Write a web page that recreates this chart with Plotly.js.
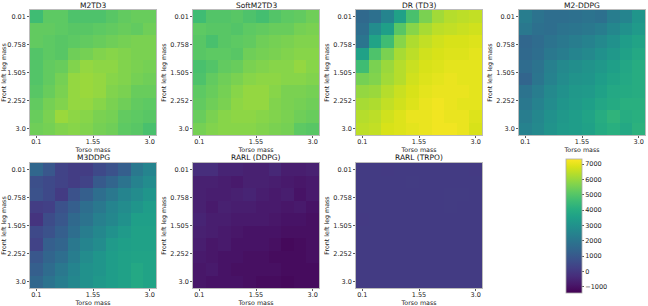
<!DOCTYPE html>
<html>
<head>
<meta charset="utf-8">
<script src="https://cdn.plot.ly/plotly-3.0.1.min.js"></script>
<style>html,body{margin:0;padding:0;background:#fff;}#chart{width:648px;height:306px;}</style>
</head>
<body>
<div id="chart"></div>
<script>
// Torso mass (x) and front left leg mass (y) grid values
const torsoMass = [0.1, 0.4222, 0.7444, 1.0667, 1.3889, 1.7111, 2.0333, 2.3556, 2.6778, 3.0];
const legMass = [0.01, 0.3422, 0.6744, 1.0067, 1.3389, 1.6711, 2.0033, 2.3356, 2.6678, 3.0];
const xTickVals = [0.1, 1.55, 3.0];
const xTickText = ["0.1", "1.55", "3.0"];
const yTickVals = [0.01, 0.7575, 1.505, 2.2525, 3.0];
const yTickText = ["0.01", "0.758", "1.505", "2.252", "3.0"];
const cbTickVals = [-1000, 0, 1000, 2000, 3000, 4000, 5000, 6000, 7000];
const titles = ["M2TD3", "SoftM2TD3", "DR (TD3)", "M2-DDPG", "M3DDPG", "RARL (DDPG)", "RARL (TRPO)"];

const m2td3 = [
  [4600,5130,5130,4860,4860,4860,5040,5210,5300,5300],
  [5210,5210,5130,5040,5040,5130,5210,5300,5210,5390],
  [5210,5130,5040,5130,5210,5300,5390,5480,5560,5560],
  [4950,5130,5040,5390,5480,5650,5740,5650,5560,5560],
  [4950,5210,5300,5650,5910,5820,5820,5650,5560,5480],
  [4950,5210,5480,5910,6000,5910,5740,5650,5480,5390],
  [5040,5300,5560,5910,6000,5910,5650,5560,5300,5300],
  [5210,5480,5650,5910,5910,5740,5560,5390,5210,5130],
  [5300,5560,6000,5820,5740,5560,5480,5210,5130,5040],
  [5390,5480,5650,5740,5650,5480,5390,5130,5040,4780]
];
const softM2td3 = [
  [4600,4950,4950,5040,4860,4690,4950,5130,5210,5390],
  [5130,5040,5040,4950,5130,5210,5300,5300,5480,5560],
  [5040,4780,5040,5130,5210,5390,5480,5560,5650,5650],
  [5040,5130,5130,5040,5390,5480,5560,5650,5740,5740],
  [4780,4950,5210,5300,5560,5650,5740,5740,5910,5740],
  [4860,5210,5390,5560,5740,5820,5820,5740,5740,5650],
  [5130,5300,5480,5740,5910,5910,5740,5560,5560,5480],
  [5210,5390,5560,5820,5910,5910,5650,5560,5480,5390],
  [5300,5560,5740,5820,5820,5740,5650,5560,5390,5300],
  [5480,5650,5740,5740,5740,5650,5560,5480,5130,5040]
];
const drTd3 = [
  [1540,1800,2500,3550,4780,5560,6090,6350,6440,6520],
  [1720,2770,3460,5040,5740,6170,6440,6520,6610,6700],
  [1980,3640,4600,5740,6260,6520,6700,6790,6790,6870],
  [3550,4860,5560,6170,6440,6700,6790,6870,6870,6960],
  [4600,5560,6000,6350,6610,6790,6870,6960,6960,6960],
  [5480,5650,6090,6350,6700,6870,6960,7050,6960,6960],
  [5910,6000,6350,6610,6790,6960,7050,7050,7050,6960],
  [6170,6260,6520,6700,6870,7050,7140,7050,6960,6960],
  [6350,6440,6700,6870,7050,7050,7140,7050,7050,6870],
  [6440,6520,6790,6870,6960,7050,7140,7140,7050,6790]
];
const m2ddpg = [
  [2240,1890,1720,1720,1800,1890,1800,2240,2500,3110],
  [2070,1800,1720,1890,1980,2070,2240,2590,2940,3290],
  [1450,1630,1890,2070,2240,2420,2680,2940,3380,3640],
  [1540,1720,2070,2240,2500,2680,2940,3200,3550,3810],
  [1630,1890,2330,2680,2850,3030,3200,3460,3730,3990],
  [1370,1980,2420,2770,3030,3110,3380,3640,3810,3990],
  [1890,2240,2680,2940,3200,3290,3550,3810,3900,3990],
  [2070,2420,2770,3110,3290,3460,3730,3900,4080,4080],
  [2240,2590,2940,3200,3380,3640,3990,4250,3990,4080],
  [2420,2680,3030,3290,3380,3550,3900,4080,3810,4160]
];
const m3ddpg = [
  [1450,930,320,140,140,490,760,1190,2070,2500],
  [670,490,320,140,320,1020,1370,1890,2420,2770],
  [760,490,60,760,1190,1720,2070,2500,2770,3110],
  [140,230,760,1190,1720,2070,2500,2770,3110,3380],
  [-120,580,930,1540,1890,2330,2590,2940,3460,3460],
  [490,760,1190,1720,2240,2590,2940,3290,3550,3550],
  [320,1190,1370,2070,2500,2770,3290,3460,3550,3550],
  [930,1370,1720,2240,2770,3110,3380,3550,3640,3640],
  [1190,1630,2070,2500,2940,3110,3380,3550,3810,3640],
  [1450,1890,2240,2590,2940,3200,3380,3550,3810,3640]
];
const rarlDdpg = [
  [-290,-290,-560,-560,-640,-640,-470,-730,-730,-640],
  [-640,-640,-730,-820,-640,-640,-730,-820,-910,-820],
  [-640,-730,-730,-640,-560,-730,-820,-730,-990,-820],
  [-640,-820,-640,-730,-730,-820,-820,-910,-820,-990],
  [-560,-730,-730,-820,-820,-820,-910,-990,-990,-1080],
  [-640,-730,-820,-910,-990,-990,-990,-1080,-1080,-1080],
  [-730,-910,-820,-990,-990,-990,-1080,-1250,-1170,-1080],
  [-820,-910,-990,-990,-1080,-1080,-1170,-1170,-1170,-1080],
  [-910,-820,-990,-1080,-1080,-1080,-1080,-1170,-1170,-1170],
  [-910,-990,-990,-990,-1080,-1170,-1170,-1250,-1170,-1170]
];
const rarlTrpo = [
  [60,60,50,60,60,70,60,60,60,50],
  [60,60,60,60,90,70,60,60,60,60],
  [60,60,60,70,80,60,70,90,90,60],
  [60,60,60,60,60,60,60,90,60,60],
  [50,70,80,80,70,60,60,60,60,60],
  [60,80,80,70,70,60,60,60,60,60],
  [60,70,70,70,60,60,60,60,60,60],
  [60,60,60,60,60,60,60,60,60,60],
  [60,60,60,60,60,60,60,60,60,60],
  [70,70,60,60,60,60,60,60,60,60]
];
const allData = [m2td3, softM2td3, drTd3, m2ddpg, m3ddpg, rarlDdpg, rarlTrpo];

const W = 648, H = 306;
const colLeft = [30, 193, 356, 519];
const panelW = 126;
const rowTop = [10, 163];
const titleCenter = [5, 157.5];
const panelH = 125;
const font = "DejaVu Sans, Liberation Sans, sans-serif";

const traces = [];
const layout = {
  width: W, height: H,
  margin: {l: 0, r: 0, t: 0, b: 0},
  paper_bgcolor: "#fff", plot_bgcolor: "#fff",
  font: {family: font, color: "#222", size: 6.5},
  showlegend: false,
  annotations: [],
  coloraxis: {
    cmin: -1430, cmax: 7310,
    colorscale: "Viridis",
    colorbar: {
      x: 566 / W, xanchor: "left", xpad: 0,
      y: (H - 293.3) / H, yanchor: "bottom", ypad: 0,
      lenmode: "pixels", len: 134, thickness: 16,
      outlinewidth: 0.8, outlinecolor: "#aaa",
      ticks: "outside", ticklen: 2, tickwidth: 0.8, tickcolor: "#333",
      tickvals: cbTickVals,
      tickfont: {size: 6.5, family: font, color: "#222"}
    }
  }
};

allData.forEach((z, i) => {
  const r = Math.floor(i / 4), c = i % 4;
  const n = i + 1;
  const xa = n === 1 ? "x" : "x" + n;
  const ya = n === 1 ? "y" : "y" + n;
  traces.push({
    type: "heatmap", x: torsoMass, y: legMass, z: z,
    xaxis: xa, yaxis: ya, coloraxis: "coloraxis",
    hoverinfo: "skip"
  });
  const x0 = colLeft[c] / W, x1 = (colLeft[c] + panelW) / W;
  const y1 = 1 - rowTop[r] / H, y0 = 1 - (rowTop[r] + panelH) / H;
  const axCommon = {
    showgrid: false, zeroline: false, showline: true, mirror: true,
    linecolor: "#aaa", linewidth: 0.8,
    ticks: "outside", ticklen: 2, tickwidth: 0.8, tickcolor: "#333",
    tickfont: {size: 6.5, family: font, color: "#222"},
    automargin: false
  };
  layout["xaxis" + (n === 1 ? "" : n)] = Object.assign({}, axCommon, {
    domain: [x0, x1], anchor: ya,
    tickmode: "array", tickvals: xTickVals, ticktext: xTickText,
    ticklabelstandoff: -2,
    title: {text: "Torso mass", font: {size: 6.3, family: font, color: "#222"}, standoff: 0}
  });
  layout["yaxis" + (n === 1 ? "" : n)] = Object.assign({}, axCommon, {
    domain: [y0, y1], anchor: xa, autorange: "reversed",
    tickmode: "array", tickvals: yTickVals, ticktext: yTickText,
    title: {text: "Front left leg mass", font: {size: 6.3, family: font, color: "#222"}, standoff: 2}
  });
  layout.annotations.push({
    text: titles[i], xref: "paper", yref: "paper",
    x: (x0 + x1) / 2, y: 1 - titleCenter[r] / H, xanchor: "center", yanchor: "middle",
    showarrow: false, font: {size: 7.5, family: font, color: "#111"}
  });
});

Plotly.newPlot("chart", traces, layout, {displayModeBar: false, staticPlot: true});
</script>
</body>
</html>
